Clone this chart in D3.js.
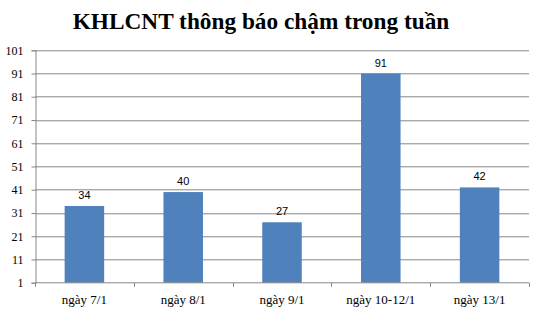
<!DOCTYPE html>
<html>
<head>
<meta charset="utf-8">
<script src="https://cdn.jsdelivr.net/npm/d3@7"></script>
<style>
  html, body { margin: 0; padding: 0; background: #fff; }
  svg { display: block; }
</style>
</head>
<body>
<svg id="chart" width="538" height="311"></svg>
<script>
const title = "KHLCNT thông báo chậm trong tuần";
const categories = ["ngày 7/1", "ngày 8/1", "ngày 9/1", "ngày 10-12/1", "ngày 13/1"];
const values = [34, 40, 27, 91, 42];
const yTicks = [1, 11, 21, 31, 41, 51, 61, 71, 81, 91, 101];

const svg = d3.select("#chart");
const W = 538, H = 311;
const margin = { left: 35, right: 9, top: 50.3, bottom: 28.3 };
const plotW = W - margin.left - margin.right;
const plotH = H - margin.top - margin.bottom;

svg.append("rect").attr("width", W).attr("height", H).attr("fill", "#fff");

const x = d3.scaleBand().domain(categories).range([0, plotW]).paddingInner(0).paddingOuter(0);
const y = d3.scaleLinear().domain([1, 101]).range([plotH, 0]);

const g = svg.append("g").attr("transform", `translate(${margin.left},${margin.top})`);

// gridlines
g.append("g").selectAll("line").data(yTicks.slice(1)).join("line")
  .attr("x1", 0).attr("x2", plotW)
  .attr("y1", d => Math.round(y(d)) + 0.5).attr("y2", d => Math.round(y(d)) + 0.5)
  .attr("stroke", "#868686").attr("stroke-width", 1);

// bars
const barW = x.bandwidth() * 0.4;
g.append("g").selectAll("rect").data(values).join("rect")
  .attr("x", (d, i) => x(categories[i]) + (x.bandwidth() - barW) / 2)
  .attr("y", d => y(d))
  .attr("width", barW)
  .attr("height", d => y(1) - y(d))
  .attr("fill", "#4F81BD");

// data labels
g.append("g").selectAll("text").data(values).join("text")
  .attr("x", (d, i) => x(categories[i]) + x.bandwidth() / 2)
  .attr("y", d => y(d) - 7)
  .attr("text-anchor", "middle")
  .attr("font-family", "Liberation Sans, Arial, sans-serif")
  .attr("font-size", "11px")
  .attr("fill", "#000")
  .text(d => d);

// y axis
const yAxis = d3.axisLeft(y).tickValues(yTicks).tickSize(4).tickPadding(8);
const ya = g.append("g").attr("transform", "translate(0.5,0)").call(yAxis);
ya.select(".domain").attr("stroke", "#868686");
ya.selectAll(".tick line").attr("stroke", "#868686");
ya.selectAll(".tick text")
  .attr("font-family", "Liberation Serif, 'Times New Roman', serif")
  .attr("font-size", "12px").attr("fill", "#000");

// x axis
const xAxis = d3.axisBottom(x).tickSize(0).tickPadding(12);
const xa = g.append("g").attr("transform", `translate(0,${Math.round(plotH) + 0.5})`).call(xAxis);
xa.select(".domain").attr("stroke", "#868686").attr("d", `M0,0H${plotW}`);
xa.selectAll(".tick text")
  .attr("font-family", "Liberation Serif, 'Times New Roman', serif")
  .attr("font-size", "13px").attr("fill", "#000");
// category boundary ticks
const bounds = categories.map(c => x(c)).concat([plotW]);
xa.append("g").selectAll("line").data(bounds).join("line")
  .attr("x1", d => Math.round(d) + 0.5).attr("x2", d => Math.round(d) + 0.5)
  .attr("y1", 0).attr("y2", 4)
  .attr("stroke", "#868686");

// title
svg.append("text")
  .attr("x", 261).attr("y", 29)
  .attr("text-anchor", "middle")
  .attr("font-family", "Liberation Serif, 'Times New Roman', serif")
  .attr("font-weight", "bold")
  .attr("font-size", "23.3px")
  .attr("fill", "#000")
  .text(title);
</script>
</body>
</html>
